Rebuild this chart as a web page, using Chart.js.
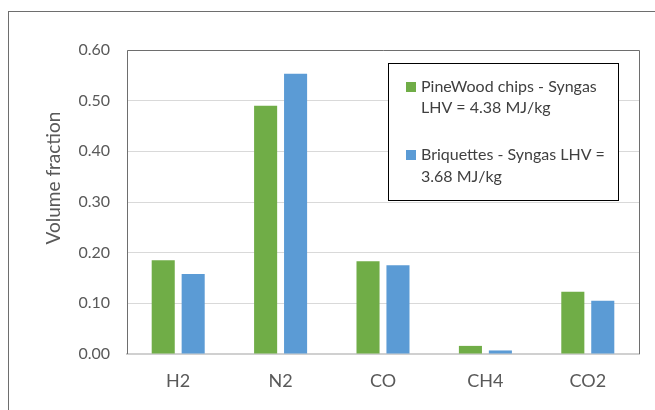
<!DOCTYPE html>
<html>
<head>
<meta charset="utf-8">
<script src="https://cdn.jsdelivr.net/npm/chart.js@4"></script>
<style>
  body { margin: 0; background: #fff; }
  canvas { display: block; }
</style>
</head>
<body>
<canvas id="gasChart" width="655" height="410"></canvas>
<script>
// data
const categories = ['H2', 'N2', 'CO', 'CH4', 'CO2'];
const pineWood = [0.185, 0.490, 0.183, 0.016, 0.123];
const briquettes = [0.158, 0.553, 0.175, 0.007, 0.105];
const seriesNames = ['PineWood chips - Syngas LHV = 4.38 MJ/kg', 'Briquettes - Syngas LHV = 3.68 MJ/kg'];
const legendLines = [['PineWood chips - Syngas', 'LHV = 4.38 MJ/kg'], ['Briquettes - Syngas LHV =', '3.68 MJ/kg']];
const yTitle = 'Volume fraction';

const FONT = 'Lato, "Open Sans", sans-serif';

// frames, y title and the boxed legend
const extras = {
    id: 'extras',
    afterDraw(chart) {
        const ctx = chart.ctx;
        const a = chart.chartArea;
        ctx.save();
        ctx.lineWidth = 1;

        // outer chart border (cut off at right/bottom)
        ctx.strokeStyle = '#6e6e6e';
        ctx.strokeRect(8.5, 11.5, 700, 500);

        // plot area frame (top, left, right)
        ctx.strokeStyle = '#6e6e6e';
        ctx.beginPath();
        ctx.moveTo(Math.round(a.left) + 0.5, Math.round(a.bottom));
        ctx.lineTo(Math.round(a.left) + 0.5, Math.round(a.top) + 0.5);
        ctx.lineTo(Math.round(a.right) + 0.5, Math.round(a.top) + 0.5);
        ctx.lineTo(Math.round(a.right) + 0.5, Math.round(a.bottom));
        ctx.stroke();

        // y axis title
        ctx.fillStyle = '#595959';
        ctx.font = '19px ' + FONT;
        ctx.textAlign = 'center';
        ctx.textBaseline = 'middle';
        ctx.translate(54, 178);
        ctx.rotate(-Math.PI / 2);
        ctx.fillText(yTitle, 0, 0);
        ctx.setTransform(1, 0, 0, 1, 0, 0);

        // legend box
        ctx.fillStyle = '#fff';
        ctx.fillRect(388, 63, 230, 137);
        ctx.strokeStyle = '#000';
        ctx.strokeRect(388.5, 63.5, 230, 137);

        const rows = [[87, 108], [155, 177]];
        ctx.font = '16px ' + FONT;
        ctx.textAlign = 'left';
        ctx.textBaseline = 'middle';
        chart.data.datasets.forEach((ds, i) => {
            ctx.fillStyle = ds.backgroundColor;
            ctx.fillRect(406, rows[i][0] - 5, 10, 10);
            ctx.fillStyle = '#404040';
            legendLines[i].forEach((line, j) => {
                ctx.fillText(line, 421, rows[i][j]);
            });
        });
        ctx.restore();
    }
};

new Chart(document.getElementById('gasChart'), {
    type: 'bar',
    data: {
        labels: categories,
        datasets: [
            {
                label: seriesNames[0],
                data: pineWood,
                backgroundColor: '#70AD47',
                categoryPercentage: 0.585,
                barPercentage: 0.77
            },
            {
                label: seriesNames[1],
                data: briquettes,
                backgroundColor: '#5B9BD5',
                categoryPercentage: 0.585,
                barPercentage: 0.77
            }
        ]
    },
    options: {
        responsive: false,
        animation: false,
        devicePixelRatio: 1,
        layout: { padding: { top: 50, right: 16, left: 0, bottom: 0 } },
        plugins: {
            legend: { display: false },
            tooltip: { enabled: false }
        },
        scales: {
            x: {
                grid: { display: false, drawTicks: false },
                border: { color: '#d0d0d0', width: 2 },
                ticks: {
                    color: '#595959',
                    font: { family: FONT, size: 18 },
                    padding: 16
                },
                afterFit(scale) { scale.height = 56; }
            },
            y: {
                min: 0,
                max: 0.6,
                grid: { color: '#d9d9d9', drawTicks: false },
                border: { display: false },
                ticks: {
                    stepSize: 0.1,
                    color: '#595959',
                    font: { family: FONT, size: 16 },
                    padding: 17,
                    callback: v => v.toFixed(2)
                },
                afterFit(scale) { scale.width = 127; }
            }
        }
    },
    plugins: [extras]
});
</script>
</body>
</html>
